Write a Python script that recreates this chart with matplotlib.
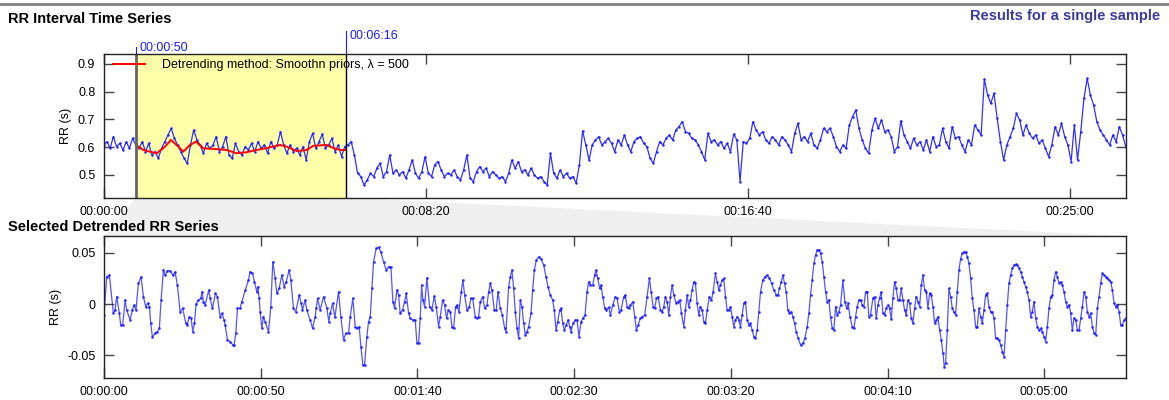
import numpy as np
import matplotlib.pyplot as plt
from matplotlib.patches import Polygon
from matplotlib.lines import Line2D
from matplotlib.ticker import FuncFormatter

plt.rcParams['font.family'] = ['Liberation Sans', 'DejaVu Sans']

# RR intervals (s) over the whole recording, read every ~5 s
rr_values = [
    0.608, 0.620, 0.596, 0.638, 0.602, 0.614, 0.590, 0.620, 0.596, 0.632,
    0.608, 0.596, 0.620, 0.584, 0.614, 0.572, 0.584, 0.560, 0.596, 0.620,
    0.644, 0.668, 0.632, 0.608, 0.584, 0.560, 0.542, 0.608, 0.662, 0.626,
    0.608, 0.578, 0.614, 0.596, 0.608, 0.638, 0.584, 0.602, 0.638, 0.572,
    0.560, 0.614, 0.584, 0.572, 0.602, 0.590, 0.614, 0.584, 0.620, 0.596,
    0.608, 0.578, 0.620, 0.596, 0.608, 0.656, 0.608, 0.578, 0.608, 0.584,
    0.596, 0.572, 0.602, 0.554, 0.620, 0.650, 0.596, 0.620, 0.647, 0.596,
    0.608, 0.632, 0.584, 0.608, 0.566, 0.602, 0.608, 0.620, 0.572, 0.506,
    0.494, 0.464, 0.482, 0.506, 0.494, 0.524, 0.542, 0.494, 0.512, 0.572,
    0.506, 0.518, 0.500, 0.512, 0.488, 0.518, 0.554, 0.506, 0.488, 0.512,
    0.566, 0.506, 0.494, 0.536, 0.548, 0.518, 0.494, 0.506, 0.500, 0.518,
    0.494, 0.482, 0.518, 0.572, 0.488, 0.476, 0.512, 0.530, 0.512, 0.524,
    0.494, 0.512, 0.500, 0.488, 0.494, 0.476, 0.506, 0.554, 0.524, 0.548,
    0.512, 0.518, 0.500, 0.524, 0.500, 0.488, 0.494, 0.476, 0.464, 0.578,
    0.506, 0.488, 0.518, 0.494, 0.506, 0.488, 0.494, 0.470, 0.536, 0.659,
    0.608, 0.554, 0.608, 0.626, 0.638, 0.608, 0.620, 0.632,
    0.614, 0.584, 0.626, 0.608, 0.644, 0.608, 0.584, 0.620, 0.632, 0.638,
    0.614, 0.602, 0.560, 0.542, 0.584, 0.620, 0.608, 0.632, 0.644, 0.626,
    0.662, 0.674, 0.692, 0.656, 0.650, 0.632, 0.626, 0.608, 0.584, 0.554,
    0.650, 0.620, 0.626, 0.608, 0.620, 0.596, 0.614, 0.584, 0.647, 0.626,
    0.476, 0.620, 0.614, 0.632, 0.692, 0.662, 0.644, 0.656, 0.626, 0.614,
    0.638, 0.626, 0.608, 0.638, 0.626, 0.608, 0.584, 0.650, 0.686, 0.626,
    0.638, 0.620, 0.650, 0.608, 0.596, 0.626, 0.668, 0.656, 0.668, 0.638,
    0.602, 0.584, 0.608, 0.596, 0.680, 0.710, 0.734, 0.668,
    0.626, 0.596, 0.578, 0.662, 0.704, 0.668, 0.698, 0.656, 0.662, 0.638,
    0.584, 0.602, 0.695, 0.644, 0.620, 0.596, 0.632, 0.608, 0.620, 0.590,
    0.626, 0.584, 0.638, 0.602, 0.608, 0.668, 0.620, 0.596, 0.674, 0.632,
    0.638, 0.608, 0.584, 0.626, 0.608, 0.680, 0.662, 0.644, 0.846, 0.788,
    0.758, 0.794, 0.704, 0.620, 0.554, 0.608, 0.638, 0.668, 0.722, 0.698,
    0.644, 0.680, 0.650, 0.632, 0.644, 0.614, 0.626, 0.596, 0.566, 0.608,
    0.674, 0.644, 0.686, 0.638, 0.608, 0.548, 0.680, 0.554, 0.656, 0.776,
    0.848, 0.788, 0.752, 0.692, 0.662, 0.644, 0.626, 0.608, 0.644, 0.620,
    0.674, 0.644, 0.602,
]
rec_length = 1587.0
rr_time = np.linspace(0, rec_length, len(rr_values))

sel_start, sel_end = 50, 376

# smoothness priors trend inside the selection
trend_time = [50, 61.5, 82.3, 95.2, 104.5, 115.9, 123.6, 134, 143.3, 154.7,
              170.2, 191, 206.5, 222, 237.6, 253.1, 273.8, 284.2, 299.7,
              315.2, 325.5, 346.3, 356.5, 366.9, 376]
trend_rr = [0.608, 0.590, 0.578, 0.602, 0.626, 0.602, 0.584, 0.608, 0.620,
            0.596, 0.594, 0.590, 0.578, 0.582, 0.590, 0.597, 0.608, 0.602,
            0.586, 0.590, 0.605, 0.608, 0.597, 0.590, 0.590]

# detrended selection, time from start of selection (s)
det_time = [
    0.0, 0.85, 1.70, 2.98, 3.51, 4.04, 4.89, 5.32, 5.96, 6.70,
    7.23, 8.30, 9.04, 9.58, 10.21, 10.96, 11.81, 12.56, 13.30, 13.94,
    14.47, 14.90, 15.43, 16.28, 17.03, 17.66, 18.20, 18.94, 19.47, 20.22,
    21.07, 21.92, 22.67, 23.41, 24.26, 25.11, 26.07, 26.60, 27.14, 27.78,
    28.31, 28.84, 29.37, 30.12, 30.86, 31.29, 31.71, 32.25, 33.42, 33.84,
    34.59, 35.55, 36.18, 37.03, 37.67, 38.31, 38.63, 39.38, 40.23, 41.08,
    41.50, 42.04, 42.57, 43.42, 43.95, 45.12, 46.08, 46.61, 47.36, 48.00,
    48.74, 49.06, 49.49, 49.81, 50.34, 50.87, 51.40, 52.47, 53.21, 53.85,
    54.60, 55.13, 55.87, 56.72, 57.47, 58.11, 59.07, 59.60, 60.45, 61.19,
    62.26, 62.90, 63.32, 64.17, 64.71, 65.77, 66.52, 67.37, 67.69, 68.11,
    68.96, 70.03, 71.09, 71.73, 72.16, 72.90, 73.65, 74.82, 75.56, 76.41,
    77.16, 78.01,
    78.54, 79.39, 80.14, 80.67, 81.41, 81.95, 82.58, 83.12, 83.86, 84.39,
    84.93, 85.46, 85.99, 86.84, 87.59, 88.33, 89.18, 90.03, 90.78, 91.52,
    92.16, 92.70, 93.44, 93.97, 94.50, 95.25, 95.89, 96.42, 97.17, 97.70,
    98.55, 99.29, 99.83, 100.36, 100.89, 101.32, 101.74, 102.27, 103.02, 103.87,
    104.62, 105.36, 106.00, 106.74, 107.28, 108.02, 108.66, 109.30, 109.83, 110.47,
    111.00, 111.53, 112.17, 112.60, 113.24, 113.98, 114.51, 115.05, 115.79, 116.54,
    117.07, 117.60, 118.45, 118.98, 119.52, 120.05, 120.79, 121.43, 122.18, 122.71,
    123.24, 123.77, 124.52, 125.16, 125.69, 126.43, 127.07, 127.82, 128.24, 129.10,
    129.63, 130.16, 130.69, 131.22, 131.76, 132.29, 132.82, 133.35, 133.88, 134.42,
    134.95, 135.48, 136.23, 136.76, 137.29, 137.93, 138.67, 139.42, 140.27, 141.01,
    141.65, 142.40, 143.14, 143.67, 144.21, 144.74, 145.38, 145.80, 146.34, 146.87,
    147.51, 148.04, 148.57, 148.99, 149.63, 150.38, 150.91, 151.55, 152.19, 152.83,
    153.47, 154.10, 154.64, 155.17, 155.92, 156.55, 156.98, 157.51, 158.15, 158.58,
    159.11, 159.75, 160.28, 161.02,
    161.56, 162.31, 163.16, 163.69, 164.44, 164.97, 165.82, 166.35, 166.88, 167.42,
    167.95, 168.69, 169.33, 169.86, 170.40, 171.14, 171.67, 172.53, 173.27, 174.01,
    174.55, 175.19, 175.72, 176.25, 176.78, 177.53, 178.06, 178.59, 179.12, 179.66,
    180.19, 180.72, 181.25, 181.78, 182.53, 183.06, 183.70, 184.23, 184.98, 185.51,
    186.04, 186.57, 187.11, 187.64, 188.17, 188.70, 189.23, 189.77, 190.30, 190.83,
    191.36, 191.90, 192.43, 193.17, 193.81, 194.34, 195.09, 195.62, 196.15, 196.68,
    197.22, 197.75, 198.28, 198.81, 199.35, 199.88, 200.41, 200.94, 201.47, 202.01,
    202.54, 203.07, 203.60, 204.13, 204.67, 205.20, 205.73, 206.26, 206.80, 207.33,
    207.86, 208.39, 208.92, 209.46, 210.20, 210.84, 211.59, 212.33, 212.97, 213.71,
    214.46, 214.99, 215.52, 216.05, 216.59, 217.12, 217.65, 218.18, 218.71, 219.25,
    219.78, 220.31, 220.84, 221.48, 222.23, 222.97, 223.61, 224.36, 224.89, 225.42,
    225.95, 226.49, 227.02, 227.55, 228.08, 228.61, 229.15, 229.68, 230.21, 230.74,
    231.27, 231.81, 232.34, 232.87, 233.40, 233.94, 234.47, 235.00, 235.74, 236.38,
    236.91, 237.45, 237.98, 238.73, 239.26, 239.79, 240.32, 240.85, 241.39,
    241.91, 242.44, 242.98, 243.51, 244.04, 244.57, 245.32, 245.85, 246.38, 246.91,
    247.45, 247.98, 248.51, 249.04, 249.57, 250.11, 250.64, 251.17, 251.70, 252.24,
    252.77, 253.30, 253.83, 254.36, 254.90, 255.43, 255.96, 256.49, 257.03, 257.56,
    258.09, 258.62, 259.15, 259.69, 260.22, 260.75, 261.28, 261.81, 262.35, 262.88,
    263.41, 263.94, 264.48, 265.01, 265.54, 266.07, 266.60, 267.14, 267.67, 268.09,
    268.52, 269.05, 269.58, 270.12, 270.65, 271.18, 271.71, 272.24, 272.78, 273.31,
    273.84, 274.37, 274.91, 275.44, 275.97, 276.50, 277.03, 277.57, 278.10, 278.63,
    279.16, 279.69, 280.23, 280.76, 281.29, 281.82, 282.36, 282.89, 283.42, 283.95,
    284.48, 285.02, 285.55, 286.08, 286.61, 287.14, 287.68, 288.21, 288.74, 289.27,
    289.81, 290.34, 290.87, 291.40, 291.93, 292.47, 293.00, 293.53, 294.06, 294.59,
    295.13, 295.66, 296.19, 296.72, 297.26, 297.79, 298.32, 298.85, 299.38, 299.92,
    300.45, 300.98, 301.51, 302.05, 302.58, 303.11, 303.64, 304.17, 304.71, 305.24,
    305.77, 306.30, 306.83, 307.37, 307.90, 308.43, 308.96, 309.50, 310.03, 310.56,
    311.09, 311.62, 312.16, 312.69, 313.22, 313.75, 314.28, 314.82, 315.35, 315.88,
    316.41, 316.95, 317.48, 318.01, 318.54, 319.07, 319.61, 320.14, 320.67, 321.20,
    321.73, 322.27, 322.80, 323.33, 323.86, 324.40, 324.93, 325.46, 325.99,
]
det_rr = [
    -0.0107, 0.0267, 0.0283, -0.0091, -0.0059, 0.0072, -0.0091, -0.0205, -0.0205, 0.0039,
    -0.0059, -0.0156, -0.0059, -0.0010, -0.0059, 0.0202, 0.0267, 0.0072, -0.0026, 0.0007,
    -0.0026, -0.0189, -0.0325, -0.0286, -0.0270, -0.0237, 0.0039, 0.0332, 0.0283, 0.0325,
    0.0325, 0.0283, 0.0315, 0.0185, -0.0075, -0.0042, -0.0189, -0.0205, -0.0124, -0.0140,
    -0.0270, -0.0189, 0.0, 0.0039, 0.0055, 0.0120, 0.0023, -0.0010, 0.0137, 0.0055,
    -0.0042, 0.0104, 0.0072, -0.0124, -0.0091, -0.0156, -0.0205, -0.0351, -0.0367, -0.0400,
    -0.0400, -0.0286, -0.0042, -0.0042, 0.0023, 0.0137, 0.0234, 0.0315, 0.0299, 0.0218,
    0.0120, 0.0169, 0.0055, -0.0075, -0.0237, -0.0124, -0.0172, -0.0270, -0.0026, 0.0413,
    0.0250, 0.0104, 0.0153, 0.0283, 0.0169, 0.0218, 0.0332, 0.0234, -0.0042, -0.0075,
    0.0088, 0.0007, -0.0059, 0.0039, -0.0059, -0.0156, -0.0237, -0.0124, -0.0042, 0.0055,
    -0.0059, 0.0072, -0.0042, -0.0172, -0.0091, 0.0007, -0.0130, 0.0120, -0.0124, -0.0351,
    -0.0286, -0.0286,
    -0.0124, 0.0055, -0.0221, -0.0237, -0.0221, -0.0416, -0.0595, -0.0595, -0.0319, -0.0172,
    -0.0124, 0.0153, 0.0413, 0.0543, 0.0553, 0.0510, 0.0413, 0.0332, 0.0364, 0.0364,
    0.0023, -0.0042, 0.0137, 0.0088, -0.0091, -0.0059, 0.0023, 0.0104, -0.0091, -0.0140,
    -0.0156, -0.0156, -0.0384, -0.0384, -0.0140, 0.0185, 0.0039, -0.0026, 0.0257, -0.0026,
    -0.0059, 0.0078, -0.0026, -0.0221, -0.0124, 0.0039, -0.0010, -0.0140, -0.0059, -0.0075,
    -0.0221, -0.0237, -0.0026, -0.0010, -0.0075, 0.0120, 0.0234, 0.0088, -0.0059, -0.0026,
    0.0055, 0.0055, -0.0124, -0.0140, -0.0124, 0.0023, 0.0072, -0.0042, -0.0010, 0.0120,
    0.0202, 0.0137, -0.0059, -0.0059, 0.0120, -0.0042, -0.0107, -0.0237, -0.0270, 0.0169,
    0.0267, 0.0332, 0.0153, -0.0075, -0.0237, -0.0335, 0.0039, -0.0026, -0.0189, -0.0302,
    -0.0270, -0.0221, -0.0091, 0.0137, 0.0332, 0.0429, 0.0462, 0.0445, 0.0380, 0.0267,
    0.0169, 0.0088, 0.0039, -0.0059, -0.0254, -0.0172, -0.0059, -0.0042, -0.0189, -0.0254,
    -0.0205, -0.0156, -0.0221, -0.0270, -0.0189, -0.0156, -0.0156, -0.0319, -0.0172, -0.0140,
    -0.0107, 0.0120, 0.0218, 0.0185, 0.0185, 0.0283, 0.0332, 0.0250, 0.0153, 0.0185,
    0.0072, -0.0042, -0.0059, -0.0033,
    -0.0107, -0.0010, 0.0072, 0.0055, -0.0075, -0.0059, 0.0072, 0.0088, -0.0026, -0.0042,
    -0.0010, 0.0023, -0.0124, -0.0254, -0.0205, -0.0140, -0.0124, -0.0107, 0.0072, 0.0250,
    0.0120, -0.0026, -0.0042, 0.0055, 0.0072, -0.0059, -0.0075, -0.0026, 0.0072, 0.0023,
    -0.0107, 0.0072, 0.0185, 0.0088, 0.0007, 0.0023, 0.0039, -0.0091, -0.0221, -0.0059,
    0.0088, -0.0026, 0.0039, 0.0137, 0.0218, 0.0202, 0.0007, -0.0107, -0.0026, -0.0059,
    -0.0172, -0.0189, -0.0059, 0.0072, 0.0039, 0.0120, 0.0299, 0.0218, 0.0137, 0.0185,
    0.0234, 0.0250, 0.0072, -0.0059, -0.0059, -0.0026, -0.0124, -0.0221, -0.0156, -0.0124,
    -0.0156, -0.0221, -0.0107, 0.0007, 0.0023, -0.0156, -0.0205, -0.0189, -0.0254, -0.0319,
    -0.0335, -0.0254, -0.0075, 0.0120, 0.0234, 0.0267, 0.0283, 0.0250, 0.0202, 0.0137,
    0.0088, 0.0088, 0.0153, 0.0218, 0.0283, 0.0202, 0.0120, -0.0059, -0.0091, -0.0075,
    -0.0124, -0.0189, -0.0270, -0.0335, -0.0400, -0.0384, -0.0335, -0.0221, -0.0091, 0.0088,
    0.0234, 0.0397, 0.0478, 0.0527, 0.0533, 0.0494, 0.0413, 0.0267, 0.0120, 0.0023,
    0.0039, -0.0124, -0.0237, -0.0254, -0.0026, -0.0107, -0.0075, -0.0010, 0.0234, 0.0023,
    -0.0042, 0.0007, -0.0124, -0.0221, -0.0237, -0.0124, -0.0026, 0.0039, 0.0039,
    -0.0010, -0.0026, 0.0120, 0.0120, -0.0124, -0.0107, 0.0055, 0.0072, -0.0140, -0.0010,
    0.0055, 0.0120, -0.0091, -0.0107, -0.0042, -0.0010, -0.0042, -0.0150, 0.0055, 0.0218,
    0.0153, 0.0039, 0.0039, 0.0153, 0.0039, -0.0059, -0.0107, 0.0039, 0.0007, -0.0140,
    -0.0189, -0.0042, 0.0072, 0.0023, -0.0026, 0.0185, 0.0283, 0.0137, 0.0120, -0.0042,
    0.0104, 0.0088, -0.0026, -0.0189, -0.0156, -0.0124, -0.0254, -0.0351, -0.0481, -0.0611,
    -0.0579, -0.0254, 0.0153, 0.0072, -0.0042, -0.0075, -0.0107, 0.0120, 0.0332, 0.0445,
    0.0494, 0.0510, 0.0510, 0.0462, 0.0397, 0.0250, 0.0055, -0.0059, -0.0221, -0.0221,
    -0.0042, -0.0124, -0.0189, -0.0059, 0.0088, 0.0104, -0.0026, -0.0075, -0.0075, -0.0140,
    -0.0335, -0.0335, -0.0351, -0.0400, -0.0465, -0.0514, -0.0254, -0.0010, 0.0202, 0.0283,
    0.0348, 0.0380, 0.0387, 0.0380, 0.0348, 0.0315, 0.0267, 0.0218, 0.0169, 0.0120,
    0.0039, -0.0124, -0.0075, 0.0023, -0.0140, -0.0221, -0.0254, -0.0237, -0.0270, -0.0319,
    -0.0367, -0.0221, -0.0042, 0.0072, 0.0088, 0.0234, 0.0315, 0.0267, 0.0202, 0.0218,
    0.0185, 0.0120, 0.0023, -0.0026, -0.0010, -0.0091, -0.0254, -0.0140, -0.0156, -0.0254,
    -0.0254, -0.0140, -0.0026, 0.0120, 0.0072, -0.0075, -0.0124, -0.0091, -0.0221, -0.0286,
    -0.0302, -0.0042, 0.0072, 0.0202, 0.0299, 0.0283, 0.0267, 0.0250, 0.0234, 0.0218,
    0.0137, 0.0007, -0.0026, -0.0010, -0.0075, -0.0205, -0.0205, -0.0156, -0.0140,
]

top_xticks = [0, 500, 1000, 1500]
top_yticks = [0.5, 0.6, 0.7, 0.8, 0.9]
bot_xticks = [0, 50, 100, 150, 200, 250, 300]
bot_yticks = [-0.05, 0, 0.05]

blue = '#1a1aff'


def hms(x, pos=None):
    s = int(round(x))
    return '%02d:%02d:%02d' % (s // 3600, (s % 3600) // 60, s % 60)


def style(ax):
    ax.tick_params(direction='in', length=7, width=1, color='#444444',
                   top=True, right=True, labelsize=9, pad=6)
    for sp in ax.spines.values():
        sp.set_color('#222222')
        sp.set_linewidth(1)
    ax.xaxis.set_major_formatter(FuncFormatter(hms))
    ax.set_ylabel('RR (s)', fontsize=9, labelpad=4)


fig = plt.figure(figsize=(11.69, 4.0), dpi=100)
ax1 = fig.add_axes([0.0887, 0.5058, 0.8743, 0.3585])
ax2 = fig.add_axes([0.0890, 0.055, 0.8740, 0.355])

# top: full recording with the analysed selection
ax1.axvspan(sel_start, sel_end, color='#ffffaa', zorder=0)
ax1.plot(rr_time, rr_values, color=blue, lw=0.9, marker='.', ms=1.6, alpha=0.9)
ax1.plot(trend_time, trend_rr, color='red', lw=1.4,
         label='Detrending method: Smoothn priors, \u03bb = 500')
ax1.axvline(sel_start, color='#666666', lw=2)
ax1.axvline(sel_end, color='black', lw=1)
ax1.set_xlim(0, rec_length)
ax1.set_ylim(0.418, 0.935)
ax1.set_xticks(top_xticks)
ax1.set_yticks(top_yticks)
style(ax1)
ax1.legend(loc='upper left', bbox_to_anchor=(0.0, 1.03), frameon=False,
           fontsize=9, handlelength=2.55, handletextpad=1.35,
           borderaxespad=0.0, borderpad=0.75)

# selection markers above the axes
mark = ax1.get_xaxis_transform()
ax1.plot([sel_start, sel_start], [1.0, 1.05], color=blue, lw=0.8,
         transform=mark, clip_on=False)
ax1.plot([sel_end, sel_end], [1.0, 1.165], color=blue, lw=0.8,
         transform=mark, clip_on=False)
ax1.text(sel_start + 5, 1.045, hms(sel_start), color=blue, fontsize=9,
         transform=mark, va='center', ha='left')
ax1.text(sel_end + 5, 1.13, hms(sel_end), color=blue, fontsize=9,
         transform=mark, va='center', ha='left')

# bottom: detrended selection
ax2.plot(det_time, det_rr, color=blue, lw=0.9, marker='.', ms=2, alpha=0.75)
ax2.set_xlim(0, sel_end - sel_start)
ax2.set_ylim(-0.0723, 0.0665)
ax2.set_xticks(bot_xticks)
ax2.set_yticks(bot_yticks)
style(ax2)
ax2.yaxis.set_major_formatter(FuncFormatter(lambda v, p: '%g' % round(v, 2)))

# grey wedge joining the selection to the lower panel
to_fig = fig.transFigure.inverted()
y0 = ax1.get_ylim()[0]
p1 = to_fig.transform(ax1.transData.transform((sel_start, y0)))
p2 = to_fig.transform(ax1.transData.transform((sel_end, y0)))
p3 = to_fig.transform(ax2.transAxes.transform((1, 1)))
p4 = to_fig.transform(ax2.transAxes.transform((0, 1)))
fig.add_artist(Polygon([p1, p2, p3, p4], closed=True, facecolor='#efefef',
                       edgecolor='none', transform=fig.transFigure, zorder=-5))

fig.add_artist(Line2D([0, 1], [0.991, 0.991], color='#808080', lw=2,
                      transform=fig.transFigure))
fig.text(8 / 1169, 1 - 19 / 400, 'RR Interval Time Series', fontsize=10.5,
         fontweight='bold', va='center')
fig.text(8 / 1169, 1 - 227 / 400, 'Selected Detrended RR Series', fontsize=10.5,
         fontweight='bold', va='center')
fig.text(1160 / 1169, 1 - 16 / 400, 'Results for a single sample', fontsize=10.5,
         fontweight='bold', va='center', ha='right', color='#3b3b9e')

fig.savefig('out.png', dpi=100)
